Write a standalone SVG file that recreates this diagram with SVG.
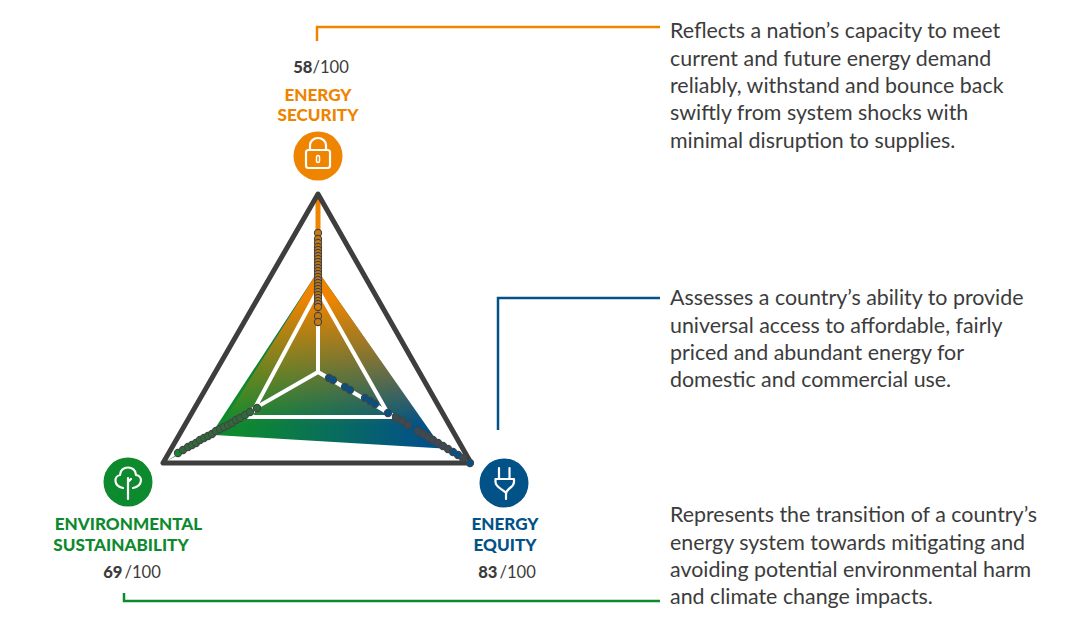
<svg xmlns="http://www.w3.org/2000/svg" width="1089" height="637" viewBox="0 0 1089 637">
<style>
text{font-family:Lato,"Liberation Sans",sans-serif}
.b{font-size:21.4px;fill:#3c3c3c}
.h{font-size:17.1px;font-weight:900;text-anchor:middle}
.s{font-size:16.6px;fill:#3c3c3c;text-anchor:middle}
.s tspan{font-weight:900}
.i{fill:none;stroke:#fff;stroke-width:2.2;stroke-linecap:round;stroke-linejoin:round}
.c{fill:none;stroke-width:2.5}
circle.d{r:3.6px;stroke:#444;stroke-width:1.1}
.o circle{fill:#c97a10}
.g circle{fill:#2f6b3a}
.e circle{fill:#035287}
.e .m{fill:#3d4a52}
</style>
<defs>
<linearGradient id="gb" gradientUnits="userSpaceOnUse" x1="215" y1="0" x2="442" y2="0"><stop offset="0.1" stop-color="#0e8a2e"/><stop offset="0.9" stop-color="#035287"/></linearGradient>
<linearGradient id="or" gradientUnits="userSpaceOnUse" x1="0" y1="285" x2="0" y2="425"><stop offset="0.1" stop-color="#ee8400"/><stop offset="1" stop-color="#ee8400" stop-opacity="0"/></linearGradient>
</defs>
<rect width="1089" height="637" fill="#fff"/>
<g id="connectors">
<path class="c" stroke="#ee8400" d="M317 41V27H660"/>
<path class="c" stroke="#035287" d="M498 430V298H660"/>
<path class="c" stroke="#0e8a2e" d="M124 593V601H660"/>
</g>
<g id="radar">
<path d="M318 194L320.500 275 442 448 471 463 443 448.500 215 435 165 462 212 433 315.500 275Z" fill="url(#gb)"/>
<path d="M318 194L320.500 275 442 448 215 435 315.500 275Z" fill="url(#or)"/>
<path d="M318 194V290" stroke="#ee8400" stroke-width="5"/>
<path d="M318 290L250 417H390Z" fill="none" stroke="#fff" stroke-width="4"/>
<path d="M318 320V372L250 411M318 372L392 415" fill="none" stroke="#fff" stroke-width="4"/>
<path d="M163 463H471L318 194Z" fill="none" stroke="#3e3e3e" stroke-width="5" stroke-linejoin="round"/>
</g>
<g class="o" id="dots-security">
<circle class="d" cx="318" cy="233"/><circle class="d" cx="318" cy="239"/><circle class="d" cx="318" cy="243"/><circle class="d" cx="318" cy="247"/><circle class="d" cx="318" cy="250"/><circle class="d" cx="318" cy="253"/><circle class="d" cx="318" cy="256"/><circle class="d" cx="318" cy="259"/><circle class="d" cx="318" cy="262"/><circle class="d" cx="318" cy="265"/><circle class="d" cx="318" cy="268"/><circle class="d" cx="318" cy="271"/><circle class="d" cx="318" cy="274"/><circle class="d" cx="318" cy="277"/><circle class="d" cx="318" cy="280"/><circle class="d" cx="318" cy="283"/><circle class="d" cx="318" cy="286"/><circle class="d" cx="318" cy="289"/><circle class="d" cx="318" cy="292"/><circle class="d" cx="318" cy="295"/><circle class="d" cx="318" cy="298"/><circle class="d" cx="318" cy="301"/><circle class="d" cx="318" cy="304"/><circle class="d" cx="318" cy="307"/><circle class="d" cx="318" cy="316"/><circle class="d" cx="318" cy="322"/>
</g>
<g class="g" id="dots-sustainability">
<circle class="d" cx="178" cy="453" style="fill:#0e8a2e"/><circle class="d" cx="183" cy="450"/><circle class="d" cx="188" cy="447"/><circle class="d" cx="192" cy="445"/><circle class="d" cx="196" cy="443"/><circle class="d" cx="200" cy="440"/><circle class="d" cx="204" cy="438"/><circle class="d" cx="208" cy="436"/><circle class="d" cx="212" cy="434"/><circle class="d" cx="216" cy="431"/><circle class="d" cx="220" cy="429"/><circle class="d" cx="224" cy="427"/><circle class="d" cx="228" cy="425"/><circle class="d" cx="232" cy="423"/><circle class="d" cx="236" cy="420"/><circle class="d" cx="240" cy="418"/><circle class="d" cx="245" cy="415"/><circle class="d" cx="250" cy="412"/><circle class="d" cx="257" cy="408"/>
</g>
<g class="e" id="dots-equity">
<circle class="d" cx="329" cy="378"/><circle class="d" cx="333" cy="380"/><circle class="d" cx="345" cy="387"/><circle class="d" cx="350" cy="390"/><circle class="d" cx="365" cy="398"/><circle class="d" cx="370" cy="401"/><circle class="d" cx="375" cy="404"/><circle class="d" cx="388" cy="413"/><circle class="d m" cx="396" cy="418"/><circle class="d m" cx="402" cy="421"/><circle class="d m" cx="408" cy="425"/><circle class="d m" cx="418" cy="431"/><circle class="d m" cx="423" cy="434"/><circle class="d m" cx="428" cy="437"/><circle class="d m" cx="433" cy="440"/><circle class="d m" cx="438" cy="443"/><circle class="d m" cx="443" cy="446"/><circle class="d m" cx="448" cy="449"/><circle class="d" cx="453" cy="452"/><circle class="d" cx="458" cy="455"/><circle class="d m" cx="463" cy="458"/><circle class="d" cx="470" cy="463"/>
</g>
<g id="energy-security">
<circle cx="318" cy="156" r="24.500" fill="#ee8400"/>
<rect class="i" x="306" y="150" width="24" height="18" rx="2.500"/>
<path class="i" d="M310 150V145A8 7 0 0 1 326 145V150"/>
<rect class="i" x="316.500" y="155.500" width="3" height="7" rx="1.500" style="stroke-width:1.500"/>
<text class="s" x="321" y="73"><tspan>58</tspan>/100</text>
<text class="h" fill="#ee8400" x="318" y="100.500">ENERGY</text>
<text class="h" fill="#ee8400" x="318" y="120.500">SECURITY</text>
<text class="b" x="670" y="38">Reflects a nation’s capacity to meet</text>
<text class="b" x="670" y="66">current and future energy demand</text>
<text class="b" x="670" y="93">reliably, withstand and bounce back</text>
<text class="b" x="670" y="120">swiftly from system shocks with</text>
<text class="b" x="670" y="148">minimal disruption to supplies.</text>
</g>
<g id="energy-equity">
<circle cx="504" cy="483" r="24.500" fill="#035287"/>
<path class="i" d="M499 468V478M509.500 468V478M495.500 479H514V482C514 488 506 488 506 494V499M495.500 479V482C495.500 487 502 489 505 492"/>
<text class="s" x="507" y="577.500"><tspan>83</tspan><tspan dx="2" style="font-weight:400">/100</tspan></text>
<text class="h" fill="#035287" x="505" y="529.500">ENERGY</text>
<text class="h" fill="#035287" x="505" y="550.500">EQUITY</text>
<text class="b" x="670" y="305">Assesses a country’s ability to provide</text>
<text class="b" x="670" y="333">universal access to affordable, fairly</text>
<text class="b" x="670" y="360">priced and abundant energy for</text>
<text class="b" x="670" y="387">domestic and commercial use.</text>
</g>
<g id="environmental-sustainability">
<circle cx="128" cy="482" r="24.500" fill="#0e8a2e"/>
<path class="i" d="M128 499V478M128 482L131 479M123 488C113 486 114 476 120 475C120 465 136 465 136 475C143 476 143 486 133 488"/>
<text class="s" x="132" y="577.500"><tspan>69</tspan><tspan dx="2" style="font-weight:400">/100</tspan></text>
<text class="h" fill="#0e8a2e" x="128.500" y="529.500">ENVIRONMENTAL</text>
<text class="h" fill="#0e8a2e" x="121" y="550.500">SUSTAINABILITY</text>
<text class="b" x="670" y="522">Represents the transition of a country’s</text>
<text class="b" x="670" y="550">energy system towards mitigating and</text>
<text class="b" x="670" y="577">avoiding potential environmental harm</text>
<text class="b" x="670" y="604">and climate change impacts.</text>
</g>
</svg>
